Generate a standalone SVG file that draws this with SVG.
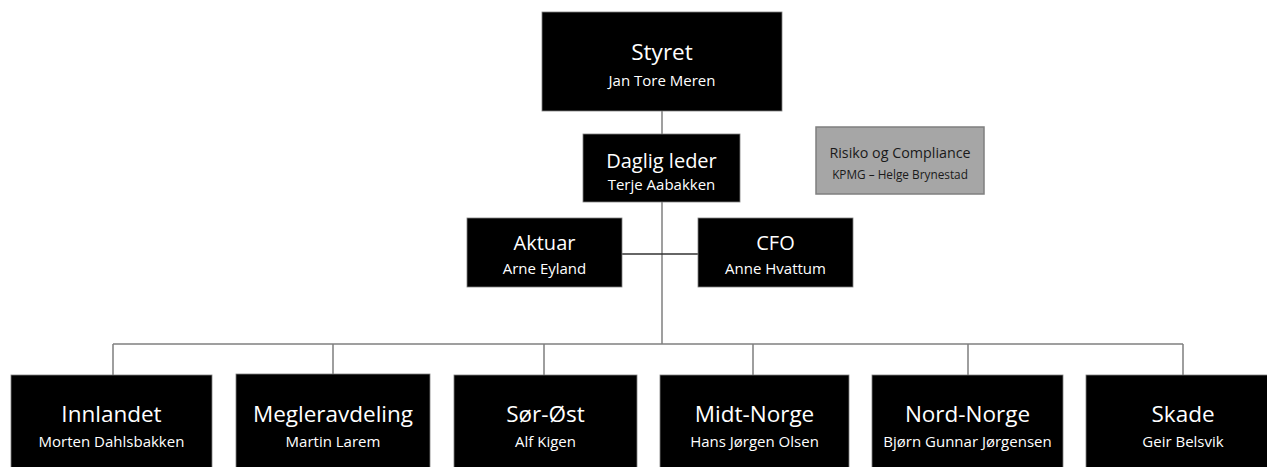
<svg xmlns="http://www.w3.org/2000/svg" width="1267" height="467" viewBox="0 0 1267 467">
<style>
.box{fill:#000;stroke:#7f7f7f;stroke-width:0.8}
.gbox{fill:#a6a6a6;stroke:#7f7f7f;stroke-width:1.5}
text{font-family:"Open Sans","Noto Sans",sans-serif;text-anchor:middle;fill:#fff}
.t1{font-size:22.5px}
.t2{font-size:20px}
.s{font-size:15px}
.gt{font-size:14.3px;fill:#1a1a1a}
.gs{font-size:11.8px;fill:#1a1a1a}
.c{fill:none;stroke:#7f7f7f;stroke-width:1.5}
.cd{fill:none;stroke:#333;stroke-width:1.5}
</style>
<rect width="1267" height="467" fill="#fff"/>
<g id="connectors">
<path class="c" d="M662 111V134"/>
<path class="c" d="M662 202V344"/>
<path class="cd" d="M622 254H698"/>
<path class="c" d="M113 344H1183"/>
<path class="c" d="M113 344V375M333 344V374M544 344V375M753 344V375M968 344V375M1183 344V375"/>
</g>
<g id="styret"><rect class="box" x="542" y="12" width="240" height="99"/><text class="t1" x="662" y="60">Styret</text><text class="s" x="662" y="86">Jan Tore Meren</text></g>
<g id="daglig-leder"><rect class="box" x="583" y="134" width="157" height="68"/><text class="t2" x="661.5" y="168">Daglig leder</text><text class="s" x="661.5" y="190">Terje Aabakken</text></g>
<g id="risiko"><rect class="gbox" x="816" y="127" width="168" height="67"/><text class="gt" x="900" y="158">Risiko og Compliance</text><text class="gs" x="900" y="179">KPMG – Helge Brynestad</text></g>
<g id="aktuar"><rect class="box" x="467" y="218" width="155" height="69"/><text class="t2" x="544.5" y="250">Aktuar</text><text class="s" x="544.5" y="274">Arne Eyland</text></g>
<g id="cfo"><rect class="box" x="698" y="218" width="155" height="69"/><text class="t2" x="775.5" y="250">CFO</text><text class="s" x="775.5" y="274">Anne Hvattum</text></g>
<g id="innlandet"><rect class="box" x="11" y="375" width="201" height="97"/><text class="t1" x="111.5" y="422">Innlandet</text><text class="s" x="111.5" y="447">Morten Dahlsbakken</text></g>
<g id="megleravdeling"><rect class="box" x="236" y="374" width="194" height="98"/><text class="t1" x="333" y="422">Megleravdeling</text><text class="s" x="333" y="447">Martin Larem</text></g>
<g id="sor-ost"><rect class="box" x="454" y="375" width="183" height="97"/><text class="t1" x="545.5" y="422">Sør-Øst</text><text class="s" x="545.5" y="447">Alf Kigen</text></g>
<g id="midt-norge"><rect class="box" x="660" y="375" width="189" height="97"/><text class="t1" x="754.5" y="422">Midt-Norge</text><text class="s" x="754.5" y="447">Hans Jørgen Olsen</text></g>
<g id="nord-norge"><rect class="box" x="872" y="375" width="191" height="97"/><text class="t1" x="967.5" y="422">Nord-Norge</text><text class="s" x="967.5" y="447">Bjørn Gunnar Jørgensen</text></g>
<g id="skade"><rect class="box" x="1086" y="375" width="195" height="97"/><text class="t1" x="1183" y="422">Skade</text><text class="s" x="1183" y="447">Geir Belsvik</text></g>
</svg>
